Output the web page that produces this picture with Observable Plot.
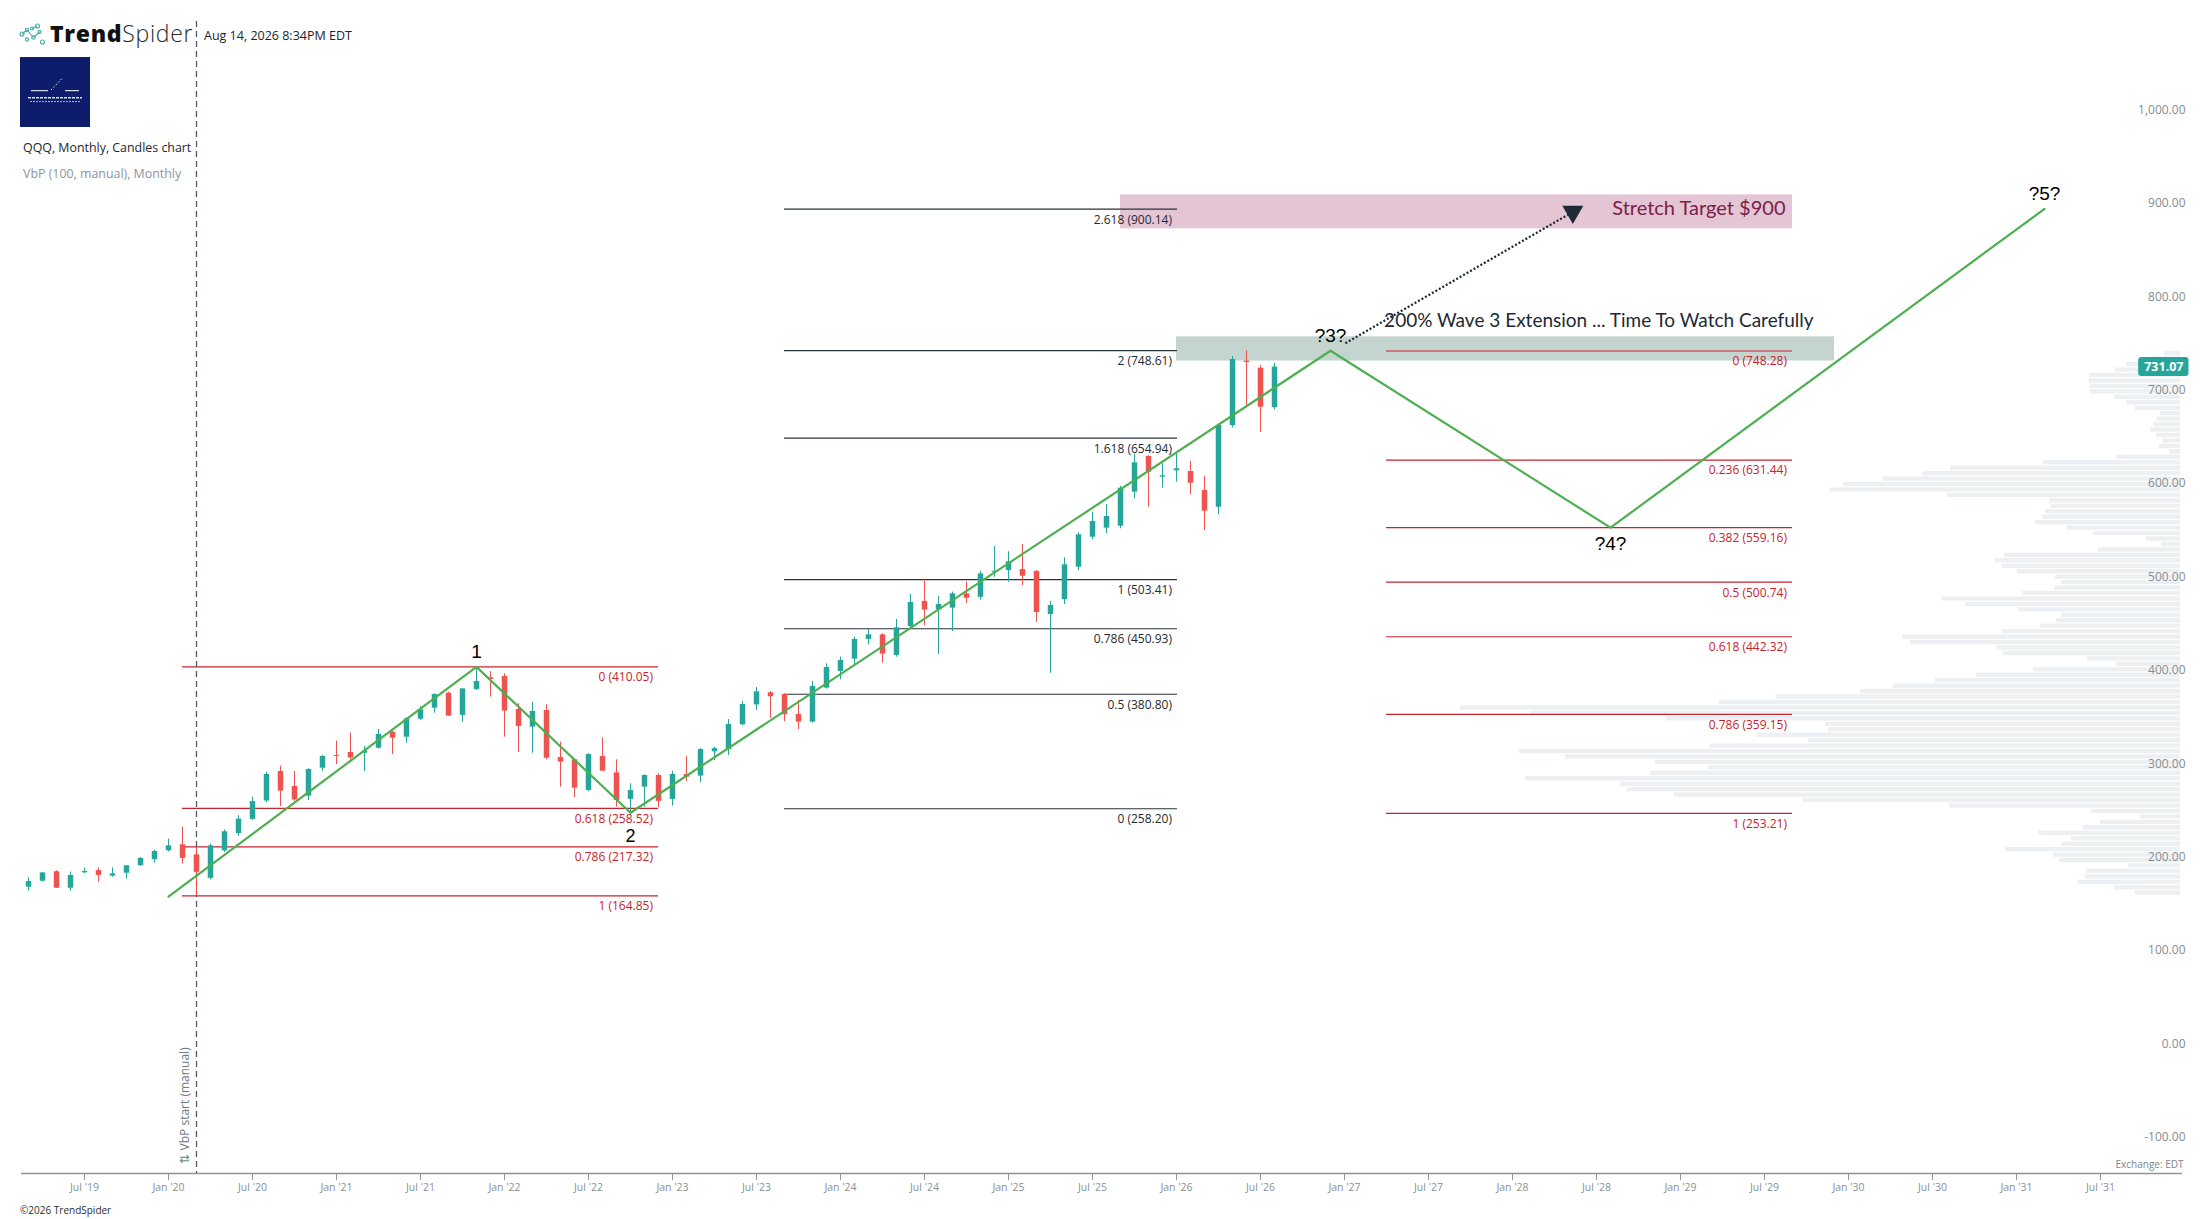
<!DOCTYPE html>
<html>
<head>
<meta charset="utf-8">
<title>QQQ, Monthly, Candles chart</title>
<script src="https://cdn.jsdelivr.net/npm/d3@7"></script>
<script src="https://cdn.jsdelivr.net/npm/@observablehq/plot@0.6"></script>
<style>
  html, body { margin:0; padding:0; background:#ffffff; overflow:hidden; }
  #wrap { position:relative; width:2207px; height:1219px; background:#fff; }
  #vbp, #main, #chrome { position:absolute; left:0; top:0; width:2207px; height:1219px; }
  #chrome { pointer-events:none; }
  svg { display:block; }
</style>
</head>
<body>
<div id="wrap">
  <div id="vbp"></div>
  <div id="main"></div>
  <svg id="chrome" width="2207" height="1219" viewBox="0 0 2207 1219" xmlns="http://www.w3.org/2000/svg" font-family="'Open Sans', sans-serif">
    <g fill="none" stroke="#48a9a6" stroke-width="1.1">
      <line x1="22" y1="34" x2="27" y2="30"/>
      <line x1="27" y1="30" x2="33.5" y2="37.5"/>
      <line x1="32" y1="28.5" x2="37" y2="26"/>
      <line x1="33.5" y1="37.5" x2="39.5" y2="32"/>
      <circle cx="22" cy="34" r="2"/>
      <circle cx="27" cy="30" r="1.8"/>
      <circle cx="32" cy="28.5" r="1.5"/>
      <circle cx="37.5" cy="26" r="2"/>
      <circle cx="39.5" cy="32" r="1.6"/>
      <circle cx="33.5" cy="37.5" r="1.8"/>
      <circle cx="27" cy="39.5" r="1.6"/>
      <circle cx="42.5" cy="42" r="2"/>
    </g>
    <text x="50" y="42" font-size="23" fill="#111111" letter-spacing="0.7"><tspan font-weight="800">Trend</tspan><tspan font-weight="300" fill="#2a2a2a">Spider</tspan></text>
    <text x="204" y="40" font-size="12.5" fill="#1c2630">Aug 14, 2026 8:34PM EDT</text>
    <rect x="20" y="57" width="70" height="70" fill="#0d1d6b"/>
    <g stroke="#ffffff">
      <line x1="31" y1="90.7" x2="48" y2="90.7" stroke-width="1"/>
      <line x1="51" y1="90" x2="63" y2="77.5" stroke-width="1" stroke-dasharray="1.5,2"/>
      <line x1="65" y1="90.7" x2="79" y2="90.7" stroke-width="1"/>
      <line x1="28" y1="97.7" x2="82" y2="97.7" stroke-width="1.4" stroke-dasharray="3,1" opacity="0.85"/>
      <line x1="30" y1="101.6" x2="80" y2="101.6" stroke-width="0.9" stroke-dasharray="2,1" opacity="0.75"/>
    </g>
    <text x="23" y="152" font-size="12.4" fill="#1c2630">QQQ, Monthly, Candles chart</text>
    <text x="23" y="178" font-size="12.4" fill="#8d959c">VbP (100, manual), Monthly</text>
    <text x="20" y="1213.5" font-size="10" fill="#2b2b2b">©2026 TrendSpider</text>
  </svg>
</div>
<script>
// ---------------- DATA ----------------
// first candle month, counted in months since Jan 2019 (Mar 2019)
const firstMonth = 2;

const opens = [
  174.2, 180.6, 190.8, 173.1, 189.6, 192.0, 186.0, 189.2, 197.2, 203.6,
  213.2, 219.6, 208.8, 183.7, 213.1, 231.7, 246.8, 266.5, 298.1, 282.0, 271.7, 301.6,
  315.3, 318.5, 317.6, 323.0, 340.2, 334.8, 354.1, 365.9, 381.9, 358.1, 385.9, 398.4,
  399.8, 364.5, 345.6, 363.4, 313.0, 310.6, 277.8, 314.1, 296.6, 268.2, 281.3, 293.8,
  268.2, 294.9, 293.1, 319.1, 321.5, 348.1, 369.4, 382.4, 380.6, 359.1, 350.9, 387.4,
  405.2, 418.4, 439.5, 444.4, 422.4, 453.3, 480.2, 471.3, 473.0, 488.3, 484.6, 511.3,
  513.3, 514.3, 512.2, 466.2, 482.0, 516.8, 548.9, 558.6, 560.7, 597.1, 635.3, 613.2,
  620.0, 619.3, 598.9, 581.0, 668.5, 737.5, 729.9, 687.5
];
const highs = [
  184.3, 190.0, 191.8, 190.5, 194.8, 194.8, 194.8, 197.2, 206.0, 213.8,
  225.6, 238.4, 216.7, 220.3, 235.5, 250.8, 270.4, 297.4, 303.8, 298.1, 301.0, 315.3,
  330.6, 339.1, 324.8, 343.0, 340.8, 355.5, 367.6, 381.2, 382.9, 386.8, 410.05, 405.1,
  402.7, 370.6, 372.3, 369.5, 329.5, 311.6, 317.1, 334.1, 310.6, 284.9, 294.6, 295.6,
  298.4, 314.1, 322.6, 324.1, 353.7, 373.0, 388.0, 383.7, 381.2, 374.1, 394.5, 413.4,
  420.5, 441.9, 450.1, 445.6, 460.8, 487.6, 503.41, 485.5, 490.2, 501.0, 512.5, 539.0,
  533.3, 541.1, 513.3, 480.1, 526.9, 553.5, 575.7, 583.9, 603.5, 638.2, 636.4, 627.5,
  638.2, 630.0, 614.2, 669.0, 742.4, 748.28, 732.8, 735.0
];
const lows = [
  170.0, 179.8, 172.8, 170.0, 188.5, 179.6, 185.0, 183.0, 196.5, 200.0,
  212.0, 199.0, 164.85, 181.9, 211.4, 228.7, 245.9, 264.7, 260.6, 266.3, 267.0, 298.4,
  305.6, 310.6, 298.1, 322.2, 316.3, 328.4, 352.4, 360.6, 357.0, 350.9, 384.8, 377.7,
  334.8, 318.7, 317.6, 310.5, 281.3, 270.0, 276.4, 298.1, 260.0, 254.3, 260.0, 259.4,
  261.1, 287.5, 286.0, 309.8, 315.3, 346.9, 363.4, 354.9, 351.6, 343.1, 350.0, 386.3,
  396.3, 412.5, 433.7, 414.1, 420.5, 450.6, 454.4, 423.4, 448.0, 478.0, 481.5, 506.0,
  500.8, 497.2, 457.9, 403.3, 476.9, 513.0, 546.1, 552.6, 558.0, 590.0, 581.0, 601.4,
  607.8, 594.3, 556.1, 572.9, 666.0, 689.9, 661.3, 685.0
];
const closes = [
  180.3, 189.5, 173.1, 186.8, 191.0, 186.8, 188.5, 197.2, 205.0, 212.5,
  218.5, 205.0, 190.1, 218.5, 233.6, 247.1, 265.8, 294.9, 277.0, 267.7, 300.2, 314.2,
  314.2, 312.7, 319.9, 337.7, 333.8, 354.4, 364.1, 380.5, 357.3, 386.5, 394.4, 396.6,
  362.7, 346.3, 362.3, 312.3, 308.1, 280.2, 316.2, 298.4, 267.1, 277.8, 293.8, 266.1,
  294.9, 292.0, 321.5, 322.6, 348.4, 369.8, 383.4, 378.1, 358.8, 350.9, 389.1, 409.5,
  416.9, 439.5, 444.4, 423.8, 451.9, 479.1, 470.9, 476.9, 488.3, 483.6, 509.6, 512.5,
  522.6, 507.2, 468.3, 475.8, 519.4, 551.5, 565.7, 571.1, 601.4, 628.6, 618.5, 614.7,
  622.2, 606.7, 576.8, 668.5, 739.2, 736.0, 688.1, 731.07
];

const xTickLabels = ["Jul '19","Jan '20","Jul '20","Jan '21","Jul '21","Jan '22","Jul '22","Jan '23",
  "Jul '23","Jan '24","Jul '24","Jan '25","Jul '25","Jan '26","Jul '26","Jan '27","Jul '27","Jan '28",
  "Jul '28","Jan '29","Jul '29","Jan '30","Jul '30","Jan '31","Jul '31"];
const yTickValues = [1000, 900, 800, 700, 600, 500, 400, 300, 200, 100, 0, -100];

// visible extents (months since Jan 2019, price)
const xDomain = [1.5, 155.857];
const yDomain = [-132.33, 1101.07];

// Fibonacci drawings
const leftFibRatios = ["0", "0.618", "0.786", "1"];
const leftFibLevels = [410.05, 258.52, 217.32, 164.85];
const leftFibSpan = [13, 47];

const midFibRatios = ["0", "0.5", "0.786", "1", "1.618", "2", "2.618"];
const midFibLevels = [258.20, 380.80, 450.93, 503.41, 654.94, 748.61, 900.14];
const midFibSpan = [56, 84.07];

const rightFibRatios = ["0", "0.236", "0.382", "0.5", "0.618", "0.786", "1"];
const rightFibLevels = [748.28, 631.44, 559.16, 500.74, 442.32, 359.15, 253.21];
const rightFibSpan = [99, 128];

// zones
const stretchZone = {t1: 80, t2: 128, p1: 879.1, p2: 915.5};
const extensionZone = {t1: 84, t2: 131, p1: 737.5, p2: 763.5};

// Elliott wave path
const waveT = [12, 34, 45, 95, 115, 146];
const waveP = [164.2, 410.05, 253.9, 748.6, 559.16, 900.5];
const waveLabels = ["", "1", "2", "?3?", "?4?", "?5?"];
const waveLabelSide = ["", "above", "below", "above", "below", "above"];

// dotted arrow
const arrowFrom = [96.06, 756.6];
const arrowTo = [112.31, 897.2];

// annotations
const notes = [
  {t: 98.83, p: 781, text: "200% Wave 3 Extension ... Time To Watch Carefully"},
  {t: 127.5, p: 900.6, text: "Stretch Target $900"}
];

// Volume by price (relative volume per row, top row first)
const vbpStartMonth = 14; // Mar 2020
const vbpRows = 100;
const vbpVolume = [
  16, 30, 54, 65, 91, 91, 90, 90, 66, 54, 45, 20, 24, 27, 30, 24, 17, 21, 11, 64,
  137, 230, 258, 297, 337, 350, 233, 131,
  129, 135, 138, 145, 113, 87, 34, 19, 82, 176, 185, 178, 163, 125, 119, 126, 158, 238, 215, 162,
  119, 124, 140, 178, 278, 270, 183, 177, 93, 64, 147, 204, 245, 287, 320, 404, 461, 720, 649, 514,
  355, 352, 423, 372, 470, 661, 615, 525, 472, 530, 655, 560, 553, 506, 377, 231, 89, 40, 80, 97,
  142, 109, 119, 175, 127, 121, 52, 94, 95, 102, 66, 45
];

// ---------------- BUILD ----------------
const candles = opens.map((o, i) => ({t: firstMonth + i, o, h: highs[i], l: lows[i], c: closes[i]}));
const upC = candles.filter(d => d.c >= d.o);
const downC = candles.filter(d => d.c < d.o);
const lastClose = closes[closes.length - 1];

const monthOfLabel = s => (+s.slice(-2) - 19) * 12 + (s.startsWith("Jul") ? 6 : 0);
const xTicks = xTickLabels.map(s => ({t: monthOfLabel(s), label: s}));
const labelByT = new Map(xTicks.map(d => [d.t, d.label]));

const mkFib = (ratios, levels) => ratios.map((r, i) => ({p: levels[i], label: `${r} (${levels[i].toFixed(2)})`}));
const leftFib = mkFib(leftFibRatios, leftFibLevels);
const midFib = mkFib(midFibRatios, midFibLevels);
const rightFib = mkFib(rightFibRatios, rightFibLevels);

const wave = waveT.map((t, i) => ({t, p: waveP[i], label: waveLabels[i], side: waveLabelSide[i]}));

const vbpCandles = candles.filter(d => d.t >= vbpStartMonth);
const vbpLow = d3.min(vbpCandles, d => d.l);
const vbpHigh = d3.max(vbpCandles, d => d.h);
const vbpStep = (vbpHigh - vbpLow) / vbpRows;
const vbp = vbpVolume.map((v, i) => ({v, hi: vbpHigh - i * vbpStep, lo: vbpHigh - (i + 1) * vbpStep}));

const GREEN = "#26a69a", RED = "#ef5350", FIBRED = "#c8232c", FIBDARK = "#27323a";
const fmtY = d => d.toLocaleString("en-US", {minimumFractionDigits: 2, maximumFractionDigits: 2});

const common = {
  width: 2207, height: 1219,
  marginTop: 21, marginBottom: 46, marginLeft: 21, marginRight: 25,
  style: {background: "transparent", overflow: "visible", fontFamily: "'Open Sans', sans-serif", color: "#8a9197"}
};

// Volume profile layer
const vbpPlot = Plot.plot({
  ...common,
  x: {domain: [0, 800], range: [2180, 1380], axis: null},
  y: {domain: yDomain, range: [1173, 21], axis: null},
  marks: [
    Plot.rect(vbp, {x1: 0, x2: "v", y1: "lo", y2: "hi", fill: "#edf0f2", insetTop: 0.55, insetBottom: 0.55})
  ]
});
document.getElementById("vbp").appendChild(vbpPlot);

const waveFont = "'Liberation Sans', Arial, sans-serif";
const mainPlot = Plot.plot({
  ...common,
  x: {domain: xDomain, range: [21, 2182]},
  y: {domain: yDomain, range: [1173, 21], axis: null},
  marks: [
    // zones
    Plot.rect([stretchZone], {x1: "t1", x2: "t2", y1: "p1", y2: "p2", fill: "#e4c5d4"}),
    Plot.rect([extensionZone], {x1: "t1", x2: "t2", y1: "p1", y2: "p2", fill: "#c4d5d0"}),

    // fib levels
    Plot.ruleY(leftFib, {y: "p", x1: leftFibSpan[0], x2: leftFibSpan[1], stroke: FIBRED, strokeWidth: 1.2}),
    Plot.text(leftFib, {y: "p", x: leftFibSpan[1], text: "label", textAnchor: "end", dx: -5.5, dy: 10.5, fill: FIBRED, fontSize: 12}),
    Plot.ruleY(midFib, {y: "p", x1: midFibSpan[0], x2: midFibSpan[1], stroke: FIBDARK, strokeWidth: 1.2}),
    Plot.text(midFib, {y: "p", x: midFibSpan[1], text: "label", textAnchor: "end", dx: -5.5, dy: 10.5, fill: "#1f2a31", fontSize: 12}),
    Plot.ruleY(rightFib, {y: "p", x1: rightFibSpan[0], x2: rightFibSpan[1], stroke: FIBRED, strokeWidth: 1.2}),
    Plot.text(rightFib, {y: "p", x: rightFibSpan[1], text: "label", textAnchor: "end", dx: -5.5, dy: 10.5, fill: FIBRED, fontSize: 12}),

    // VbP start marker
    Plot.ruleX([vbpStartMonth], {stroke: "#4d5b69", strokeWidth: 1.3, strokeDasharray: "6,4"}),
    Plot.text(["\u21C5 VbP start (manual)"], {x: vbpStartMonth, frameAnchor: "bottom", rotate: -90, textAnchor: "start", lineAnchor: "middle", dx: -11, dy: -10, fontSize: 12, fill: "#6d7b88"}),

    // candles
    Plot.ruleX(upC, {x: "t", y1: "l", y2: "h", stroke: GREEN, strokeWidth: 1}),
    Plot.ruleX(downC, {x: "t", y1: "l", y2: "h", stroke: RED, strokeWidth: 1}),
    Plot.ruleX(upC, {x: "t", y1: "o", y2: "c", stroke: GREEN, strokeWidth: 5.5}),
    Plot.ruleX(downC, {x: "t", y1: "o", y2: "c", stroke: RED, strokeWidth: 5.5}),

    // wave path
    Plot.line(wave, {x: "t", y: "p", stroke: "#4caf50", strokeWidth: 2.2}),

    // dotted arrow to stretch target
    Plot.line([arrowFrom, arrowTo], {x: d => d[0], y: d => d[1], stroke: "#1e2b33", strokeWidth: 2.2, strokeDasharray: "2,2", strokeLinecap: "butt"}),
    Plot.dot([arrowTo], {x: d => d[0], y: d => d[1], symbol: "triangle", r: 7.8, fill: "#1e2b33", stroke: "none", rotate: 180}),

    // wave labels
    Plot.text(wave.filter(d => d.side === "above"), {x: "t", y: "p", text: "label", dy: -15, lineAnchor: "middle", fontSize: 19, fill: "#000", fontFamily: waveFont}),
    Plot.text(wave.filter(d => d.label === "2"), {x: "t", y: "p", text: "label", dy: 23, lineAnchor: "middle", fontSize: 18, fill: "#000", fontFamily: waveFont}),
    Plot.text(wave.filter(d => d.side === "below" && d.label !== "2"), {x: "t", y: "p", text: "label", dy: 16, lineAnchor: "middle", fontSize: 19, fill: "#000", fontFamily: waveFont}),

    // annotations
    Plot.text([notes[0]], {x: "t", y: "p", text: "text", textAnchor: "start", lineAnchor: "middle", fontSize: 19, fill: "#1d2a33", fontFamily: "Lato, 'Open Sans', sans-serif"}),
    Plot.text([notes[1]], {x: "t", y: "p", text: "text", textAnchor: "end", lineAnchor: "middle", fontSize: 20, fill: "#7a2048", fontFamily: "Lato, 'Open Sans', sans-serif"}),

    // axes
    Plot.ruleY([yDomain[0]], {stroke: "#8e959b", strokeWidth: 1.3}),
    Plot.axisX(xTicks.map(d => d.t), {tickFormat: t => labelByT.get(t), tickSize: 7, tickPadding: 3, fontSize: 10.5, stroke: "#8e959b", fill: "#8a9197", label: null}),
    Plot.text(yTickValues, {y: d => d, text: fmtY, frameAnchor: "right", textAnchor: "end", dx: 3, dy: -6, fill: "#868d94", fontSize: 12}),
    Plot.text(["Exchange: EDT"], {frameAnchor: "bottom-right", textAnchor: "end", dx: 1, dy: -6, fontSize: 10, fill: "#7d848a"}),
    Plot.text([lastClose], {y: d => d, text: d => d.toFixed(2), frameAnchor: "right", textAnchor: "end", dx: 1, fill: "#ffffff", fontWeight: "bold", fontSize: 12.5})
  ]
});
document.getElementById("main").appendChild(mainPlot);

// price tag background
const tagText = lastClose.toFixed(2);
d3.select(mainPlot).selectAll("text").filter(function () { return this.textContent === tagText; }).each(function () {
  const b = this.getBBox();
  const r = document.createElementNS("http://www.w3.org/2000/svg", "rect");
  r.setAttribute("x", b.x - 6);
  r.setAttribute("y", b.y - 1);
  r.setAttribute("width", b.width + 11);
  r.setAttribute("height", b.height + 2);
  r.setAttribute("rx", 3);
  r.setAttribute("fill", GREEN);
  r.setAttribute("stroke", "none");
  const tr = this.getAttribute("transform");
  if (tr) r.setAttribute("transform", tr);
  this.parentNode.insertBefore(r, this);
});
</script>
</body>
</html>
